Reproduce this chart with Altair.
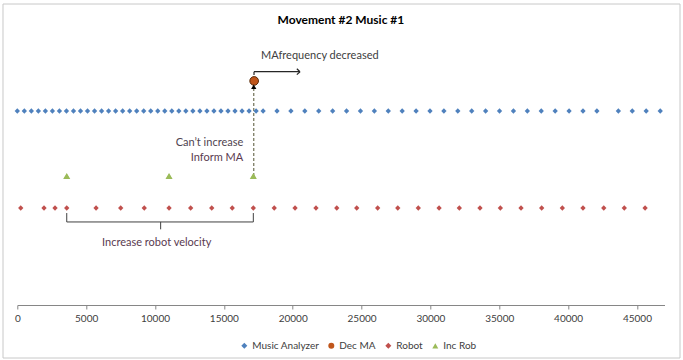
import altair as alt
import pandas as pd

# ---------------- data ----------------
ma_x = [0, 510, 1020, 1530, 2040, 2550, 3060, 3570, 4080, 4590, 5100, 5610, 6120,
        6630, 7140, 7650, 8160, 8670, 9180, 9690, 10200, 10710, 11220, 11730, 12240,
        12750, 13260, 13770, 14280, 14790, 15300, 15810, 16320, 16830, 17340, 17850,
        18860, 19870, 20880, 21890, 22900, 23910, 24920, 25930, 26940, 27950, 28960,
        29970, 30980, 31990, 33000, 34010, 35020, 36030, 37040, 38050, 39060, 40070,
        41080, 42090, 43650, 44660, 45670, 46690]
ma_y = 2

robot_x = [250, 1940, 2740, 3590, 5720, 7510, 9220, 11020, 12590, 14120, 15610, 17140,
           18660, 20170, 21690, 23200, 24650, 26170, 27630, 29120, 30630, 32100, 33600,
           35080, 36580, 38080, 39580, 41080, 42590, 44080, 45590]
robot_y = 1

inc_x = [3590, 11020, 17140]
inc_y = 1.33

dec_x = [17200]
dec_y = 2.31

series = ["Music Analyzer", "Dec MA", "Robot", "Inc Rob"]
colors = ["#4F81BD", "#C0561B", "#C0504D", "#9BBB59"]
shapes = ["diamond", "circle", "diamond", "triangle-up"]

x_ticks = [0, 5000, 10000, 15000, 20000, 25000, 30000, 35000, 40000, 45000]
X_MAX = 47000
Y_MAX = 2.6

rows = []
for v in ma_x:
    rows.append({"series": "Music Analyzer", "x": v, "y": ma_y})
for v in dec_x:
    rows.append({"series": "Dec MA", "x": v, "y": dec_y})
for v in robot_x:
    rows.append({"series": "Robot", "x": v, "y": robot_y})
for v in inc_x:
    rows.append({"series": "Inc Rob", "x": v, "y": inc_y})
df = pd.DataFrame(rows)

W = 647.2
H = 252.2
FONT = "Lato"
TXT = "#404040"
NOTE = "#5a3a50"

xs = alt.Scale(domain=[0, X_MAX], nice=False, zero=False)
ys = alt.Scale(domain=[0, Y_MAX], nice=False, zero=False)

xaxis = alt.Axis(values=x_ticks, format="d", title=None, grid=False, labelFlush=False,
                 domainColor="#868686", tickColor="#868686", tickSize=4, labelPadding=4,
                 labelFont=FONT, labelFontSize=10, labelColor=TXT)


def px(col="x"):
    return alt.X(f"{col}:Q", scale=xs, axis=xaxis)


def py(col="y"):
    return alt.Y(f"{col}:Q", scale=ys, axis=None)


# chart-area border (decoration)
border = alt.Chart(pd.DataFrame({"a": [0]})).mark_rect(
    fill=None, stroke="#c8c8c8", strokeWidth=1).encode(
    x=alt.value(-14.3), x2=alt.value(662.7), y=alt.value(-48.8), y2=alt.value(305.2))

# dashed connector (Inc Rob -> Dec MA)
conn = pd.DataFrame({"x": [17170], "y": [inc_y], "y2": [2.25]})
dashed = alt.Chart(conn).mark_rule(color="#7a7a62", strokeDash=[3, 2], strokeWidth=1.3).encode(
    x=px(), y=py(), y2="y2:Q")
head = alt.Chart(pd.DataFrame({"x": [17170], "y": [2.25]})).mark_point(
    shape="triangle-up", filled=True, color="black", size=28, opacity=1).encode(
    x=px(), y=py())

points = alt.Chart(df).mark_point(filled=True, opacity=1, size=28).encode(
    x=px(), y=py(),
    color=alt.Color("series:N", scale=alt.Scale(domain=series, range=colors),
                    legend=alt.Legend(title=None, orient="none", legendX=222, legendY=288,
                                      direction="horizontal", labelFont=FONT,
                                      labelFontSize=10, labelColor=TXT, symbolSize=36,
                                      columnPadding=7, labelOffset=3, gridAlign="none")),
    shape=alt.Shape("series:N", scale=alt.Scale(domain=series, range=shapes)),
)
inc_big = alt.Chart(df).transform_filter(alt.datum.series == "Inc Rob").mark_point(
    shape="triangle-up", filled=True, color="#9BBB59", size=50, opacity=1).encode(
    x=px(), y=py())
dec_big = alt.Chart(df).transform_filter(alt.datum.series == "Dec MA").mark_point(
    shape="circle", filled=True, fill="#C0561B", stroke="#5a2a08", size=75,
    strokeWidth=1, opacity=1).encode(x=px(), y=py())

# "MA frequency decreased" arrow (shaft, hook and two head strokes)
arr = pd.DataFrame({"x": [17190, 17190, 20530, 20530],
                    "x2": [20530, 17190, 20300, 20300],
                    "y": [2.405, 2.405, 2.405, 2.405],
                    "y2": [2.405, 2.37, 2.435, 2.375]})
arrow = alt.Chart(arr).mark_rule(color="#262626", strokeWidth=1.2).encode(
    x=px(), x2="x2:Q", y=py(), y2="y2:Q")

# bracket under robot points
br = pd.DataFrame({"x": [3590, 3590, 17140, 10410],
                   "x2": [17140, 3590, 17140, 10410],
                   "y": [0.856, 0.948, 0.948, 0.856],
                   "y2": [0.856, 0.856, 0.856, 0.78]})
bracket = alt.Chart(br).mark_rule(color="#404040", strokeWidth=1).encode(
    x=px(), x2="x2:Q", y=py(), y2="y2:Q")

# annotation texts
t_ma = alt.Chart(pd.DataFrame({"x": [17700], "y": [2.565], "t": ["MAfrequency decreased"]})).mark_text(
    align="left", baseline="middle", font=FONT, fontSize=11, color=TXT).encode(
    x=px(), y=py(), text="t:N")
t_cant = alt.Chart(pd.DataFrame({"x": [16410], "y": [1.675], "t": ["Can\u2019t increase"]})).mark_text(
    align="right", baseline="middle", font=FONT, fontSize=11, color="#4f4450").encode(
    x=px(), y=py(), text="t:N")
t_inform = alt.Chart(pd.DataFrame({"x": [16410], "y": [1.52], "t": ["Inform MA"]})).mark_text(
    align="right", baseline="middle", font=FONT, fontSize=11, color=NOTE).encode(
    x=px(), y=py(), text="t:N")
t_inc = alt.Chart(pd.DataFrame({"x": [10120], "y": [0.64], "t": ["Increase robot velocity"]})).mark_text(
    align="center", baseline="middle", font=FONT, fontSize=11, color=NOTE).encode(
    x=px(), y=py(), text="t:N")

chart = alt.layer(
    border, dashed, points, inc_big, dec_big, head, arrow, bracket,
    t_ma, t_cant, t_inform, t_inc
).properties(
    width=W, height=H,
    title=alt.TitleParams("Movement #2 Music #1", font=FONT, fontSize=12, fontWeight="bold",
                          color="black", anchor="middle", offset=0, dy=23),
    autosize=alt.AutoSizeParams(type="none"),
    padding={"left": 17.3, "top": 52.8, "right": 18.5, "bottom": 55},
    background="white",
).configure_view(strokeWidth=0)

chart.save("out.html", embed_options={"renderer": "svg", "actions": False})
